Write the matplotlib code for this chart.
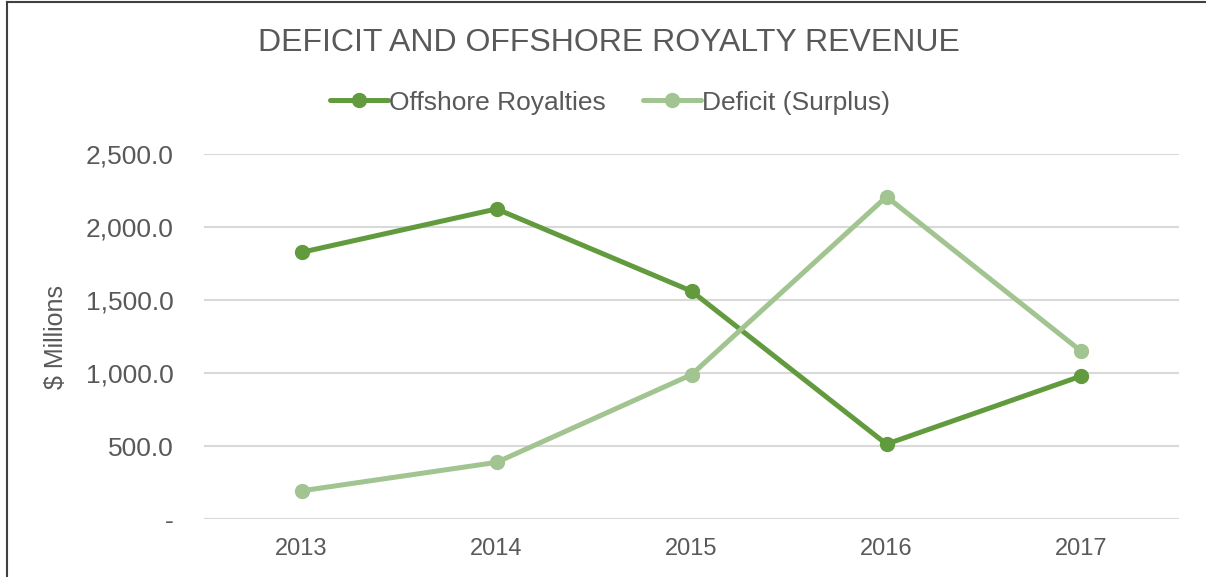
import matplotlib
matplotlib.use("Agg")
import matplotlib.pyplot as plt
from matplotlib.lines import Line2D
from matplotlib.ticker import FuncFormatter

years = ["2013", "2014", "2015", "2016", "2017"]
offshore_royalties = [1827, 2124, 1561, 513, 980]
deficit_surplus = [193, 388, 989, 2208, 1148]
y_ticks = [0, 500, 1000, 1500, 2000, 2500]

plt.rcParams['font.family'] = ['Liberation Sans', 'DejaVu Sans']
text_color = "#595959"
dark_green = "#629B3D"
light_green = "#A1C490"

fig = plt.figure(figsize=(12.06, 5.77), dpi=100)
ax = fig.add_axes([0.1692, 0.1005, 0.8084, 0.6325])

x = list(range(len(years)))
ax.plot(x, offshore_royalties, color=dark_green, lw=3.6, marker='o', ms=10,
        label="Offshore Royalties", solid_capstyle='round', zorder=3)
ax.plot(x, deficit_surplus, color=light_green, lw=3.6, marker='o', ms=10,
        label="Deficit (Surplus)", solid_capstyle='round', zorder=3)

ax.set_xlim(-0.5, len(years) - 0.5)
ax.set_ylim(0, 2500)
ax.set_yticks(y_ticks)
ax.yaxis.set_major_formatter(FuncFormatter(lambda v, p: "-" if v == 0 else f"{v:,.1f}"))
ax.set_xticks(x)
ax.set_xticklabels(years)
ax.grid(axis='y', color="#D9D9D9", lw=1.5)
ax.set_axisbelow(True)
for s in ax.spines.values():
    s.set_visible(False)
ax.tick_params(axis='both', length=0, colors=text_color)
ax.tick_params(axis='y', labelsize=19, pad=22)
ax.tick_params(axis='x', labelsize=17, pad=14)
ax.set_ylabel("$ Millions", fontsize=18, color=text_color)
ax.yaxis.set_label_coords(-0.140, 0.5)

fig.text(0.505, 0.925, "DEFICIT AND OFFSHORE ROYALTY REVENUE", ha='center', va='center',
         fontsize=23, color=text_color)

leg = fig.legend(loc='center', bbox_to_anchor=(0.506, 0.822), ncol=2, frameon=False,
                 fontsize=19, handlelength=2.2, columnspacing=1.4, handletextpad=0.05)
for t in leg.get_texts():
    t.set_color(text_color)

fig.add_artist(Line2D([0.006, 0.006], [0, 0.997], transform=fig.transFigure, color="#404040", lw=1.5))
fig.add_artist(Line2D([0.006, 1.0], [0.997, 0.997], transform=fig.transFigure, color="#404040", lw=1.5))

fig.savefig("out.png", dpi=100)
